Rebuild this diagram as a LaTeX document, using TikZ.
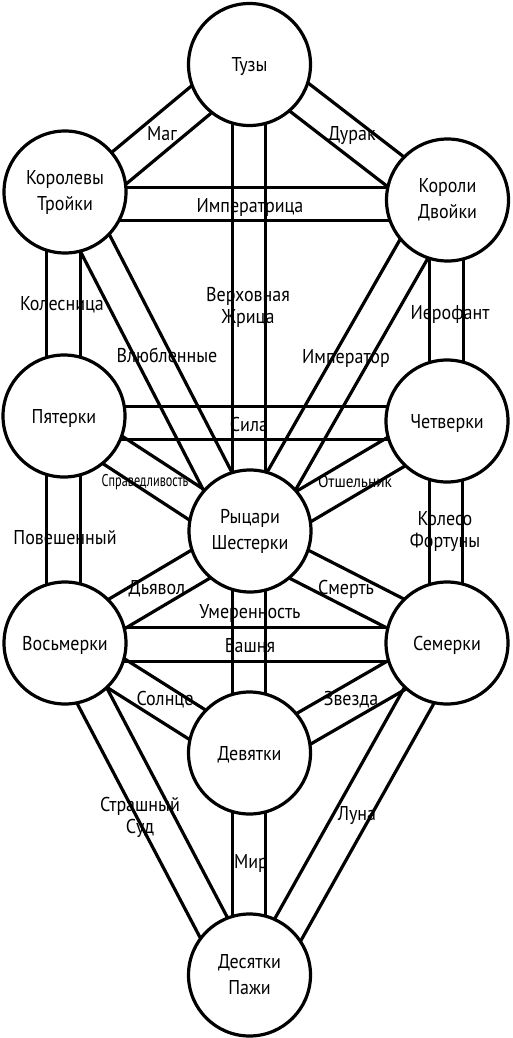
\documentclass[tikz,border=0pt]{standalone}
\usepackage{fontspec}
\setmainfont{PT Sans}[FakeStretch=0.9]
\usepackage{graphicx}
\usetikzlibrary{calc,backgrounds}
\newcommand\lblfont{\fontsize{20}{26}\selectfont}
\newcommand\pathfont{\fontsize{20}{22}\selectfont}
\newcommand\smallfont{\fontsize{17}{20}\selectfont}
\newcommand\bandhw{16.75pt}
\newcommand\band[4]{%
  \path ($(#1.center)+(#2)$) coordinate (bandS) ($(#3.center)+(#4)$) coordinate (bandE);
  \draw[bandline] ($(bandS)!\bandhw!90:(bandE)$) -- ($(bandE)!\bandhw!-90:(bandS)$);
  \draw[bandline] ($(bandS)!\bandhw!-90:(bandE)$) -- ($(bandE)!\bandhw!90:(bandS)$);
}
\tikzset{
  sefira/.style={circle, draw, line width=3.2pt, fill=white, minimum size=122pt, inner sep=0pt, align=center, font=\lblfont},
  one/.style={text height=14pt, text depth=0pt},
  bandline/.style={line width=3.2pt},
  lab/.style={inner sep=0pt, font=\pathfont, align=center},
  lab1/.style={lab, text height=14pt, text depth=0pt},
  smalllab/.style={inner sep=0pt, font=\smallfont, text height=12pt, text depth=0pt},
}
\begin{document}
\begin{tikzpicture}[x=1pt,y=-1pt]
\useasboundingbox (0,0) rectangle (512,1038);
% sefirot
\node[sefira,one] (ace) at (249.5,64.5) {Тузы};
\node[sefira] (queen) at (65,192) {Королевы\\Тройки};
\node[sefira] (king) at (447.5,200) {Короли\\Двойки};
\node[sefira,one] (five) at (64,416) {Пятерки};
\node[sefira,one] (four) at (447,421) {Четверки};
\node[sefira] (knight) at (250,531) {Рыцари\\Шестерки};
\node[sefira,one] (eight) at (65,643) {Восьмерки};
\node[sefira,one] (seven) at (447,643) {Семерки};
\node[sefira,one] (nine) at (249.5,753) {Девятки};
\node[sefira] (ten) at (249.5,975) {Десятки\\Пажи};
% paths
\begin{pgfonlayer}{background}
\band{ace}{0,-5.1}{queen}{0,21.1}
\band{ace}{0,-5.6}{king}{0,11.7}
\band{ace}{-0.5,0}{knight}{-1,0}
\band{queen}{0,12}{king}{0,4}
\band{queen}{-1.5,0}{five}{-0.5,0}
\band{queen}{3.6,0}{knight}{-6.7,0}
\band{king}{-1,0}{four}{-0.5,0}
\band{king}{-5.6,0}{knight}{2.8,0}
\band{five}{0,7}{four}{0,2}
\band{five}{0.5,2.6}{knight}{0,8.5}
\band{four}{0.5,0.4}{knight}{0,7.2}
\band{five}{-0.5,0}{eight}{-1.5,0}
\band{four}{-1,0}{seven}{-1,0}
\band{eight}{0,1.6}{knight}{0,3.9}
\band{seven}{0.5,-2.9}{knight}{0,8.2}
\band{knight}{-1,0}{nine}{-0.5,0}
\band{eight}{0,1.5}{seven}{0,1.5}
\band{eight}{0,-2}{nine}{0,4.6}
\band{seven}{0.5,2.7}{nine}{0,7}
\band{eight}{-0.7,0}{ten}{-10.8,0}
\band{seven}{1.6,0}{ten}{12.9,0}
\band{nine}{-0.5,0}{ten}{-0.5,0}
\end{pgfonlayer}
% labels
\node[lab1] (mag) at (162,133) {Маг};
\node[lab1] (fool) at (352,133) {Дурак};
\node[lab1] (empress) at (250,205) {Императрица};
\node[lab1] (chariot) at (62,303) {Колесница};
\node[lab1] (lovers) at (167,355) {Влюбленные};
\node[lab] (priestess) at (248,307) {Верховная\\Жрица};
\node[lab1] (hierophant) at (450,312) {Иерофант};
\node[lab1] (emperor) at (346,356) {Император};
\node[lab1] (strength) at (249,424) {Сила};
\node[smalllab] (justice) at (145,480) {\scalebox{0.8}[1]{Справедливость}};
\node[smalllab] (hermit) at (355,481) {Отшельник};
\node[lab1] (hanged) at (65,537) {Повешенный};
\node[lab] (wheel) at (445,532) {Колесо\\Фортуны};
\node[lab1] (devil) at (157,587) {Дьявол};
\node[lab1] (death) at (346,587) {Смерть};
\node[lab1] (temperance) at (250,611) {Умеренность};
\node[lab1] (tower) at (250,645) {Башня};
\node[lab1] (sun) at (165,698) {Солнце};
\node[lab1] (star) at (351,698) {Звезда};
\node[lab] (judgement) at (140,817) {Страшный\\Суд};
\node[lab1] (moon) at (357,813) {Луна};
\node[lab1] (world) at (251,861) {Мир};
\end{tikzpicture}
\end{document}
